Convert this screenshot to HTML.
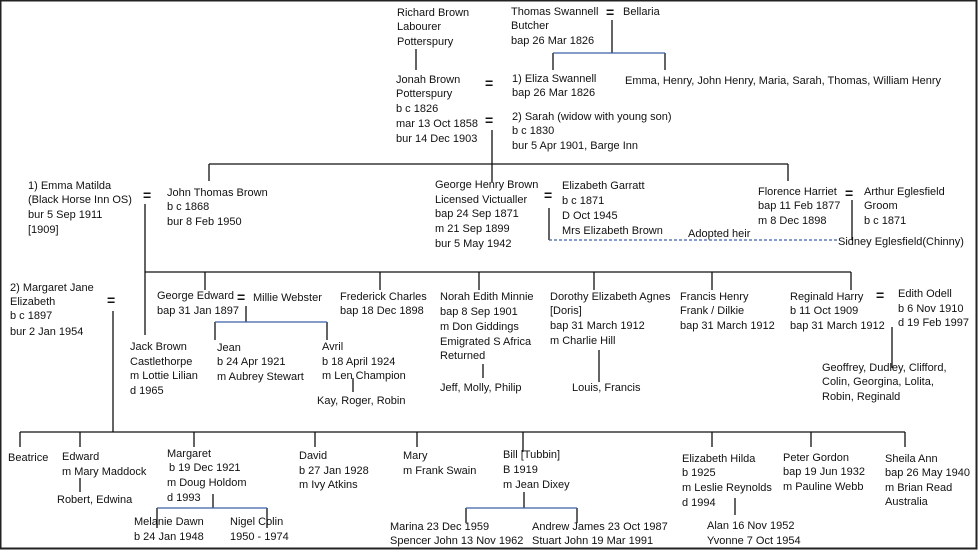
<!DOCTYPE html>
<html><head><meta charset="utf-8"><style>
html,body{margin:0;padding:0;background:#fff;}
svg{display:block;}
text{font-family:"Liberation Sans",sans-serif;font-size:11px;fill:#111;}
.eq{font-size:14px;font-weight:bold;}
</style></head><body>
<svg width="978" height="550" viewBox="0 0 978 550" xmlns="http://www.w3.org/2000/svg">
<rect x="0.5" y="0.5" width="976" height="548" fill="#fff" stroke="#222" stroke-width="2"/>
<g stroke="#111" stroke-width="1.3" fill="none">
<line x1="416" y1="49" x2="416" y2="70"/>
<line x1="612" y1="20" x2="612" y2="53"/>
<line x1="492" y1="130" x2="492" y2="182"/>
<line x1="209" y1="164" x2="788" y2="164"/>
<line x1="209" y1="164" x2="209" y2="181"/>
<line x1="788" y1="164" x2="788" y2="181"/>
<line x1="145" y1="204" x2="145" y2="335"/>
<line x1="145" y1="272" x2="851" y2="272"/>
<line x1="205" y1="272" x2="205" y2="290"/>
<line x1="380" y1="272" x2="380" y2="290"/>
<line x1="479" y1="272" x2="479" y2="290"/>
<line x1="594" y1="272" x2="594" y2="290"/>
<line x1="712" y1="272" x2="712" y2="290"/>
<line x1="851" y1="272" x2="851" y2="290"/>
<line x1="549" y1="208" x2="549" y2="240"/>
<line x1="852" y1="200" x2="852" y2="240"/>
<line x1="246" y1="306" x2="246" y2="322"/>
<line x1="483" y1="364" x2="483" y2="378"/>
<line x1="353" y1="378" x2="353" y2="392"/>
<line x1="599" y1="350" x2="599" y2="382"/>
<line x1="892" y1="327" x2="892" y2="368"/>
<line x1="113" y1="311" x2="113" y2="432"/>
<line x1="20" y1="432" x2="905" y2="432"/>
<line x1="20" y1="432" x2="20" y2="447"/>
<line x1="80" y1="432" x2="80" y2="447"/>
<line x1="194" y1="432" x2="194" y2="447"/>
<line x1="315" y1="432" x2="315" y2="447"/>
<line x1="417" y1="432" x2="417" y2="447"/>
<line x1="523" y1="432" x2="523" y2="452"/>
<line x1="712" y1="432" x2="712" y2="447"/>
<line x1="811" y1="432" x2="811" y2="447"/>
<line x1="905" y1="432" x2="905" y2="447"/>
<line x1="80" y1="478" x2="80" y2="492"/>
<line x1="213" y1="494" x2="213" y2="508"/>
<line x1="524" y1="492" x2="524" y2="508"/>
<line x1="735" y1="498" x2="735" y2="515"/>
<line x1="553" y1="53" x2="553" y2="70"/>
<line x1="665" y1="53" x2="665" y2="70"/>
<line x1="215" y1="322" x2="215" y2="340"/>
<line x1="327" y1="322" x2="327" y2="340"/>
<line x1="157" y1="508" x2="157" y2="528"/>
<line x1="267" y1="508" x2="267" y2="528"/>
<line x1="466" y1="508" x2="466" y2="523"/>
<line x1="577" y1="508" x2="577" y2="523"/>
</g>
<g stroke="#3f62a8" stroke-width="1.3">
<line x1="553" y1="53" x2="665" y2="53"/>
<line x1="215" y1="322" x2="327" y2="322"/>
<line x1="157" y1="508" x2="267" y2="508"/>
<line x1="466" y1="508" x2="577" y2="508"/>
<line x1="549" y1="240" x2="838" y2="240" stroke-dasharray="3,2"/>
</g>
<g>
<text x="397" y="16">Richard Brown</text><text x="397" y="30">Labourer</text><text x="397" y="45">Potterspury</text>
<text x="396" y="83">Jonah Brown</text><text x="396" y="97">Potterspury</text><text x="396" y="112">b c 1826</text><text x="396" y="127">mar 13 Oct 1858</text><text x="396" y="142">bur 14 Dec 1903</text>
<text class="eq" x="485" y="88">=</text><text class="eq" x="485" y="125">=</text>
<text x="511" y="15">Thomas Swannell</text><text x="511" y="29">Butcher</text><text x="511" y="44">bap 26 Mar 1826</text>
<text class="eq" x="606" y="17">=</text><text x="623" y="15">Bellaria</text>
<text x="512" y="82">1) Eliza Swannell</text><text x="512" y="96">bap 26 Mar 1826</text>
<text x="625" y="84" textLength="316">Emma, Henry, John Henry, Maria, Sarah, Thomas, William Henry</text>
<text x="512" y="120">2) Sarah (widow with young son)</text><text x="512" y="134">b c 1830</text><text x="512" y="149">bur 5 Apr 1901, Barge Inn</text>
<text x="28" y="189">1) Emma Matilda</text><text x="28" y="203">(Black Horse Inn OS)</text><text x="28" y="218">bur 5 Sep 1911</text><text x="28" y="233">[1909]</text>
<text class="eq" x="143" y="200">=</text>
<text x="167" y="196">John Thomas Brown</text><text x="167" y="210">b c 1868</text><text x="167" y="225">bur 8 Feb 1950</text>
<text x="435" y="188">George Henry Brown</text><text x="435" y="203">Licensed Victualler</text><text x="435" y="217">bap 24 Sep 1871</text><text x="435" y="232">m 21 Sep 1899</text><text x="435" y="247">bur 5 May 1942</text>
<text class="eq" x="544" y="200">=</text>
<text x="562" y="189">Elizabeth Garratt</text><text x="562" y="204">b c 1871</text><text x="562" y="219">D Oct 1945</text><text x="562" y="234">Mrs Elizabeth Brown</text>
<text x="688" y="237">Adopted  heir</text>
<text x="758" y="195">Florence Harriet</text><text x="758" y="209">bap 11 Feb 1877</text><text x="758" y="224">m 8 Dec 1898</text>
<text class="eq" x="845" y="198">=</text>
<text x="864" y="195">Arthur Eglesfield</text><text x="864" y="209">Groom</text><text x="864" y="224">b c 1871</text>
<text x="838" y="245">Sidney Eglesfield(Chinny)</text>
<text x="10" y="291">2) Margaret Jane</text><text x="10" y="305">Elizabeth</text><text x="10" y="319">b c 1897</text><text x="10" y="335">bur 2 Jan 1954</text>
<text class="eq" x="107" y="305">=</text>
<text x="157" y="299">George Edward</text><text x="157" y="314">bap 31 Jan 1897</text>
<text class="eq" x="237" y="302">=</text><text x="253" y="301">Millie Webster</text>
<text x="340" y="300">Frederick Charles</text><text x="340" y="314">bap 18 Dec 1898</text>
<text x="440" y="300">Norah Edith Minnie</text><text x="440" y="315">bap 8 Sep 1901</text><text x="440" y="330">m Don Giddings</text><text x="440" y="345">Emigrated S Africa</text><text x="440" y="359">Returned</text>
<text x="440" y="391">Jeff, Molly, Philip</text>
<text x="130" y="350">Jack Brown</text><text x="130" y="365">Castlethorpe</text><text x="130" y="379">m Lottie Lilian</text><text x="130" y="394">d 1965</text>
<text x="217" y="351">Jean</text><text x="217" y="365">b 24 Apr 1921</text><text x="217" y="380">m Aubrey Stewart</text>
<text x="322" y="350">Avril</text><text x="322" y="365">b 18 April 1924</text><text x="322" y="379">m Len Champion</text>
<text x="317" y="404">Kay, Roger, Robin</text>
<text x="550" y="300">Dorothy Elizabeth Agnes</text><text x="550" y="314">[Doris]</text><text x="550" y="329">bap 31 March 1912</text><text x="550" y="344">m Charlie Hill</text>
<text x="572" y="391">Louis, Francis</text>
<text x="680" y="300">Francis Henry</text><text x="680" y="314">Frank / Dilkie</text><text x="680" y="329">bap 31 March 1912</text>
<text x="790" y="300">Reginald Harry</text><text x="790" y="314">b 11 Oct 1909</text><text x="790" y="329">bap 31 March 1912</text>
<text class="eq" x="876" y="300">=</text>
<text x="898" y="297">Edith Odell</text><text x="898" y="312">b 6 Nov 1910</text><text x="898" y="326">d 19 Feb 1997</text>
<text x="822" y="371">Geoffrey, Dudley, Clifford,</text><text x="822" y="385">Colin, Georgina, Lolita,</text><text x="822" y="400">Robin, Reginald</text>
<text x="8" y="461">Beatrice</text>
<text x="62" y="460">Edward</text><text x="62" y="475">m Mary Maddock</text>
<text x="57" y="503">Robert,  Edwina</text>
<text x="167" y="457">Margaret</text><text x="169" y="471">b 19 Dec 1921</text><text x="167" y="486">m Doug Holdom</text><text x="167" y="501">d 1993</text>
<text x="134" y="525">Melanie Dawn</text><text x="134" y="540">b 24 Jan 1948</text>
<text x="230" y="525">Nigel Colin</text><text x="230" y="540">1950 - 1974</text>
<text x="299" y="459">David</text><text x="299" y="474">b 27 Jan 1928</text><text x="299" y="488">m Ivy Atkins</text>
<text x="403" y="459">Mary</text><text x="403" y="474">m Frank Swain</text>
<text x="503" y="458">Bill [Tubbin]</text><text x="503" y="473">B 1919</text><text x="503" y="488">m Jean Dixey</text>
<text x="390" y="530">Marina 23 Dec 1959</text><text x="390" y="544">Spencer John 13 Nov 1962</text>
<text x="532" y="530">Andrew James 23 Oct 1987</text><text x="532" y="544">Stuart John 19 Mar 1991</text>
<text x="682" y="462">Elizabeth Hilda</text><text x="682" y="476">b 1925</text><text x="682" y="491">m Leslie Reynolds</text><text x="682" y="506">d 1994</text>
<text x="707" y="529">Alan 16 Nov 1952</text><text x="707" y="544">Yvonne 7 Oct 1954</text>
<text x="783" y="461">Peter Gordon</text><text x="783" y="475">bap 19 Jun 1932</text><text x="783" y="490">m Pauline Webb</text>
<text x="885" y="462">Sheila Ann</text><text x="885" y="476">bap 26 May 1940</text><text x="885" y="491">m Brian Read</text><text x="885" y="505">Australia</text>
</g>
</svg>
</body></html>
